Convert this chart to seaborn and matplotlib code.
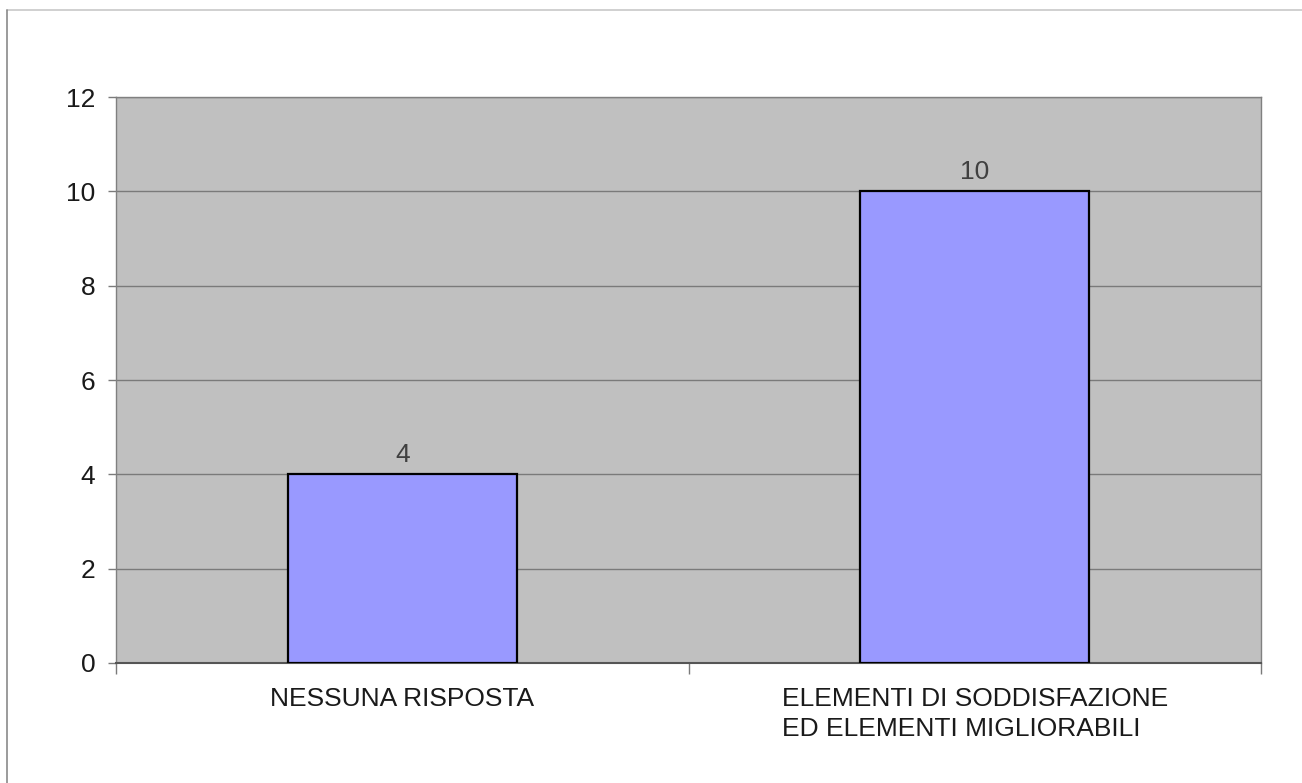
import matplotlib
matplotlib.use("Agg")
import matplotlib.pyplot as plt
from matplotlib.lines import Line2D
import pandas as pd
import seaborn as sns

CATEGORIES = [
    "NESSUNA RISPOSTA",
    "ELEMENTI DI SODDISFAZIONE\nED ELEMENTI MIGLIORABILI",
]
VALUES = [4, 10]
Y_TICKS = [0, 2, 4, 6, 8, 10, 12]

FS = 19

sns.set_theme(style="white")
plt.rcParams["font.family"] = ["Liberation Sans", "DejaVu Sans"]

df = pd.DataFrame({"cat": CATEGORIES, "val": VALUES})

fig = plt.figure(figsize=(13.02, 7.83), dpi=100)
ax = fig.add_axes([116 / 1302, 1 - 663 / 783, (1261 - 116) / 1302, (663 - 97) / 783])
ax.set_facecolor("#c0c0c0")

sns.barplot(data=df, x="cat", y="val", color="#9999ff", saturation=1,
            width=0.4, edgecolor="black", linewidth=1.6, ax=ax, zorder=3)

ax.set_xlim(-0.5, len(CATEGORIES) - 0.5)
ax.set_ylim(0, 12)
ax.set_yticks(Y_TICKS)
ax.yaxis.grid(True, color="#7a7a7a", linewidth=1.0, zorder=1)
ax.set_axisbelow(True)
ax.set_xlabel("")
ax.set_ylabel("")

for c in ax.containers:
    ax.bar_label(c, padding=5.5, fontsize=FS, color="#404040")

ax.tick_params(axis="y", which="major", length=6, width=1, color="#7a7a7a",
               labelsize=FS, labelcolor="#1a1a1a", pad=9, left=True)
ax.set_xticks(range(len(CATEGORIES)))
ax.set_xticklabels(CATEGORIES, multialignment="left", linespacing=1.35)
ax.tick_params(axis="x", which="major", length=0, labelsize=FS,
               labelcolor="#1a1a1a", pad=17)
ax.set_xticks([-0.5, 0.5, 1.5], minor=True)
ax.tick_params(axis="x", which="minor", length=8, width=1, color="#7a7a7a",
               bottom=True)

for s in ax.spines.values():
    s.set_color("#808080")
    s.set_linewidth(1.0)
ax.spines["bottom"].set_color("#555555")
ax.spines["bottom"].set_linewidth(1.5)

# outer frame of the original chart object
fig.add_artist(Line2D([7 / 1302, 1], [1 - 10 / 783, 1 - 10 / 783],
                      transform=fig.transFigure, color="#c8c8c8", linewidth=1.2))
fig.add_artist(Line2D([7 / 1302, 7 / 1302], [0, 1 - 10 / 783],
                      transform=fig.transFigure, color="#8a8a8a", linewidth=1.2))

fig.savefig("out.png", dpi=100)
